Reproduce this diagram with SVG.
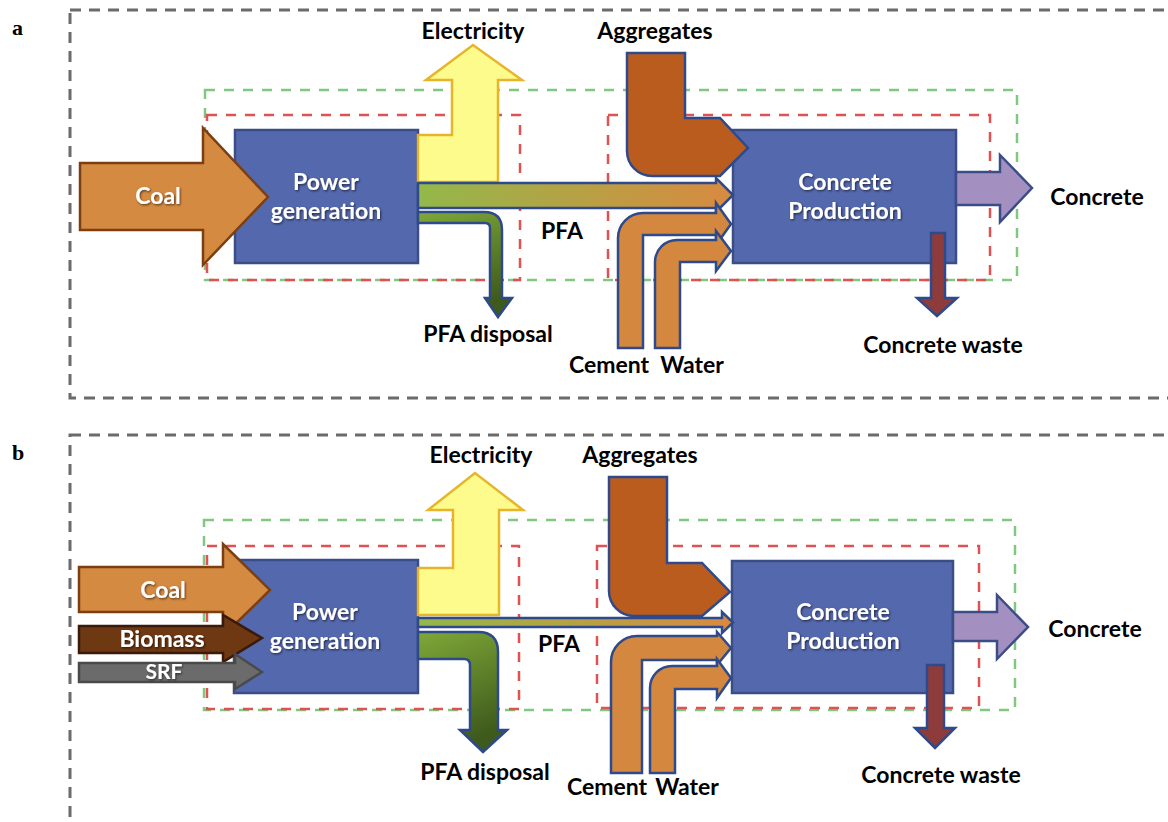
<svg xmlns="http://www.w3.org/2000/svg" width="1168" height="822" viewBox="0 0 1168 822">
<defs>
<style>
.outer{fill:none;stroke:#6b6b6b;stroke-width:3;stroke-dasharray:11 8}
.gbox{fill:none;stroke:#80c880;stroke-width:2.5;stroke-dasharray:10 9}
.rbox{fill:none;stroke:#e05252;stroke-width:2.5;stroke-dasharray:10 9}
.proc{fill:#5468ad;stroke:#3b4d87;stroke-width:2.5}
.lbl{font-family:Lato,"Open Sans",sans-serif;font-weight:bold;font-size:23px;fill:#000}
.wl{font-family:Lato,"Open Sans",sans-serif;font-weight:bold;font-size:23px;fill:#fff;filter:url(#sh)}
.pl{font-family:"Liberation Serif",serif;font-weight:bold;font-size:22px;fill:#000}
.blue{stroke:#2f4a8a;stroke-width:2.5;stroke-linejoin:miter}
.coal{fill:#d58a42;stroke:#7b3f12;stroke-width:2.5}
.elec{fill:#fdfb8c;stroke:#e6b52a;stroke-width:2.5}
.agg{fill:#bb5c1f}
.cem{fill:#d4873e}
.cout{fill:#a390c0;stroke:#3b4d87;stroke-width:2.5}
.cw{fill:#8e3b3b}
.bio{fill:#6e3812;stroke:#3b1a0a;stroke-width:2.5}
.srf{fill:#6b6b6b;stroke:#4a4a4a;stroke-width:2.5}
</style>
<linearGradient id="pfa" x1="0" y1="0" x2="1" y2="0">
<stop offset="0" stop-color="#93b84a"/>
<stop offset="1" stop-color="#d98a40"/>
</linearGradient>
<linearGradient id="pfad" x1="0" y1="0" x2="0.3" y2="1">
<stop offset="0" stop-color="#7fa838"/>
<stop offset="1" stop-color="#3e5a1c"/>
</linearGradient>
<filter id="sh" x="-10%" y="-20%" width="130%" height="150%">
<feDropShadow dx="1" dy="1.2" stdDeviation="0.8" flood-color="#000" flood-opacity="0.6"/>
</filter>
</defs>
<rect width="1168" height="822" fill="#fff"/>

<!-- Panel a -->
<g id="panel-a-frames">
<text class="pl" x="12" y="35">a</text>
<rect class="outer" x="70" y="10" width="1120" height="388"/>
<rect class="gbox" x="205" y="90" width="812" height="190"/>
<rect class="rbox" x="207" y="115" width="313" height="165"/>
<rect class="rbox" x="608" y="115" width="382" height="165"/>
</g>
<g id="a-power">
<rect class="proc" x="235" y="130" width="183" height="133"/>
<text class="wl" x="326" y="190" text-anchor="middle">Power</text>
<text class="wl" x="326" y="219" text-anchor="middle">generation</text>
</g>
<g id="a-concrete-prod">
<rect class="proc" x="733" y="130" width="223" height="133"/>
<text class="wl" x="845" y="190" text-anchor="middle">Concrete</text>
<text class="wl" x="845" y="219" text-anchor="middle">Production</text>
</g>
<g id="a-connectors">
<polygon class="elec" points="418,182 418,135 452,135 452,80 426,80 473,45 522,80 498,80 498,182"/>
<path class="blue" fill="url(#pfad)" d="M418,212 H484 Q502,212 502,230 V298 H512 L498,317 L485,298 H490 V228 Q490,223 485,223 H418 Z"/>
<polygon class="blue" fill="url(#pfa)" points="418,183 716,183 716,178 733,195 716,212 716,208 418,208"/>
<path class="blue agg" d="M627,53 H685 V118 H720 L748,148 L720,176 H652 A25,25 0 0 1 627,151 Z"/>
<path class="blue cem" d="M618,348 V238 A25,25 0 0 1 643,213 H716 V203 L731,224 L716,245 V235 H643 V348 Z"/>
<path class="blue cem" d="M655,348 V262 A22,22 0 0 1 677,240 H716 V231 L731,251 L716,271 V262 H680 V348 Z"/>
<polygon class="cout" points="956,172 1000,172 1000,155 1032,188 1000,222 1000,205 956,205"/>
<polygon class="blue cw" points="931,233 945,233 945,298 957,298 937,316 917,298 931,298"/>
</g>
<g id="a-coal">
<polygon class="coal" points="80,163 203,163 203,128 268,197 203,265 203,230 80,230"/>
<text class="wl" x="158" y="204" text-anchor="middle">Coal</text>
</g>
<g id="a-labels">
<text class="lbl" x="473" y="39" text-anchor="middle">Electricity</text>
<text class="lbl" x="655" y="39" text-anchor="middle">Aggregates</text>
<text class="lbl" x="562" y="239" text-anchor="middle">PFA</text>
<text class="lbl" x="488" y="342" text-anchor="middle">PFA disposal</text>
<text class="lbl" x="609" y="373" text-anchor="middle">Cement</text>
<text class="lbl" x="692" y="373" text-anchor="middle">Water</text>
<text class="lbl" x="1097" y="205" text-anchor="middle">Concrete</text>
<text class="lbl" x="943" y="353" text-anchor="middle">Concrete waste</text>
</g>

<!-- Panel b -->
<g id="panel-b-frames">
<text class="pl" x="12" y="460">b</text>
<rect class="outer" x="70" y="435" width="1120" height="420"/>
<rect class="gbox" x="204" y="520" width="811" height="190"/>
<rect class="rbox" x="207" y="546" width="312" height="163"/>
<rect class="rbox" x="597" y="546" width="382" height="162"/>
</g>
<g id="b-power">
<rect class="proc" x="234" y="560" width="184" height="133"/>
<text class="wl" x="325" y="620" text-anchor="middle">Power</text>
<text class="wl" x="325" y="649" text-anchor="middle">generation</text>
</g>
<g id="b-concrete-prod">
<rect class="proc" x="732" y="561" width="221" height="132"/>
<text class="wl" x="843" y="620" text-anchor="middle">Concrete</text>
<text class="wl" x="843" y="649" text-anchor="middle">Production</text>
</g>
<g id="b-connectors">
<polygon class="elec" points="418,615 418,568 453,568 453,510 428,510 475,473 523,510 499,510 499,615"/>
<path class="blue" fill="url(#pfad)" d="M418,632 H478 Q498,632 498,652 V730 H507 L483,752 L460,730 H470 V665 Q470,659 464,659 H418 Z"/>
<polygon class="blue" fill="url(#pfa)" points="418,618 722,618 722,612 733,622.5 722,633 722,627 418,627"/>
<path class="blue agg" d="M609,477 H667 V563 H702 L730,592 L702,616 H634 A25,25 0 0 1 609,591 Z"/>
<path class="blue cem" d="M611,773 V662 A26,26 0 0 1 637,636 H717 V632 L731,648 L717,665 V660 H642 V773 Z"/>
<path class="blue cem" d="M650,773 V688 A22,22 0 0 1 672,666 H717 V659 L731,678 L717,698 V689 H675 V773 Z"/>
<polygon class="cout" points="953,612 997,612 997,595 1028,627 997,659 997,641 953,641"/>
<polygon class="blue cw" points="927,665 944,665 944,728 955,728 935,748 915,728 927,728"/>
</g>
<g id="b-fuels">
<polygon class="coal" points="79,567 223,567 223,544 270,590 223,636 223,612 79,612"/>
<text class="wl" x="163" y="598" text-anchor="middle">Coal</text>
<polygon class="bio" points="79,626 223,626 223,615 262,638 223,662 223,653 79,653"/>
<text class="wl" x="162" y="647" text-anchor="middle">Biomass</text>
<polygon class="srf" points="79,663 235,663 235,654 262,672 235,689 235,682 79,682"/>
<text class="wl" x="164" y="679" text-anchor="middle" style="font-size:21px">SRF</text>
</g>
<g id="b-labels">
<text class="lbl" x="481" y="463" text-anchor="middle">Electricity</text>
<text class="lbl" x="640" y="463" text-anchor="middle">Aggregates</text>
<text class="lbl" x="559" y="652" text-anchor="middle">PFA</text>
<text class="lbl" x="485" y="780" text-anchor="middle">PFA disposal</text>
<text class="lbl" x="607" y="795" text-anchor="middle">Cement</text>
<text class="lbl" x="687" y="795" text-anchor="middle">Water</text>
<text class="lbl" x="1095" y="637" text-anchor="middle">Concrete</text>
<text class="lbl" x="941" y="783" text-anchor="middle">Concrete waste</text>
</g>
</svg>
